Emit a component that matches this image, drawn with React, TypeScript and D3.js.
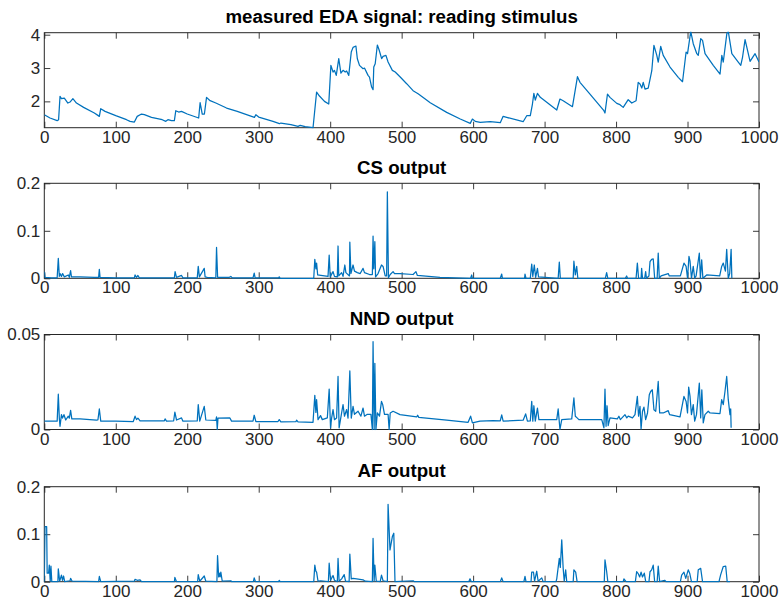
import React, { useRef, useEffect } from "react";
import * as d3 from "d3";

// sample index on x
const xTicks = [0, 100, 200, 300, 400, 500, 600, 700, 800, 900, 1000];

const titles = [
  "measured EDA signal: reading stimulus",
  "CS output",
  "NND output",
  "AF output",
];

const edaYTicks = [2, 3, 4];
const csYTicks = [0, 0.1, 0.2];
const nndYTicks = [0, 0.05];
const afYTicks = [0, 0.1, 0.2];

const edaSignal: [number, number][] = [
  [0, 1.6], [8, 1.5], [18, 1.42], [20, 1.45], [22, 2.15], [24, 2.08], [28, 2.1], [33, 1.95], [36, 1.98],
  [40, 2.08], [45, 1.95], [55, 1.82], [70, 1.65], [75, 1.58], [77, 1.55], [79, 1.78], [85, 1.7], [100, 1.57],
  [115, 1.45], [120, 1.4], [126, 1.38], [130, 1.55], [136, 1.62], [140, 1.6], [150, 1.52], [165, 1.45],
  [170, 1.4], [173, 1.45], [178, 1.42], [182, 1.42], [184, 1.72], [188, 1.68], [192, 1.7], [200, 1.62],
  [212, 1.53], [216, 1.5], [218, 1.96], [221, 1.62], [224, 1.62], [227, 2.12], [232, 2.02], [240, 1.95],
  [255, 1.8], [270, 1.7], [290, 1.55], [294, 1.52], [296, 1.6], [300, 1.53], [320, 1.4], [329, 1.33],
  [331, 1.35], [345, 1.3], [355, 1.25], [358, 1.28], [365, 1.24], [376, 1.21], [381, 2.28], [385, 2.16],
  [392, 2.0], [398, 1.92], [401, 3.08], [404, 2.88], [406, 2.93], [408.5, 2.78], [412, 3.28], [415, 2.85],
  [418, 2.93], [421, 2.88], [423, 2.91], [426, 2.78], [429.5, 3.48], [432, 3.62], [436, 3.66], [438, 3.28],
  [441, 3.08], [446, 2.98], [448, 3.0], [453, 2.78], [455, 2.73], [458, 2.43], [460, 2.35], [461, 3.03],
  [463, 3.13], [466, 3.69], [468.5, 3.54], [472, 3.28], [474, 3.35], [478, 3.38], [481, 3.18], [487, 2.93],
  [491, 2.88], [498, 2.73], [507, 2.53], [516, 2.32], [523, 2.23], [533, 2.07], [540, 1.96], [563, 1.67],
  [582, 1.47], [596, 1.34], [599, 1.47], [603, 1.4], [610, 1.37], [624, 1.39], [638, 1.36], [642, 1.55],
  [647, 1.52], [670, 1.39], [675, 1.57], [680, 1.57], [683, 1.92], [685, 2.24], [687, 2.04], [690, 2.24],
  [694, 2.12], [717, 1.74], [721.5, 2.07], [726, 2.02], [739, 1.84], [746, 2.74], [749.5, 2.57],
  [763.5, 2.22], [783, 1.72], [784.5, 1.65], [788, 2.22], [791.5, 2.12], [801, 1.94], [805.5, 1.9],
  [810, 1.82], [817, 2.05], [822, 1.95], [828, 2.02], [831, 2.57], [833.5, 2.52], [836, 2.4], [838, 2.57],
  [840.5, 2.37], [845, 2.4], [850, 2.92], [853, 3.68], [857, 3.38], [859, 3.18], [862.5, 3.65], [866, 3.38],
  [875.5, 3.03], [887, 2.72], [893, 2.59], [898, 3.48], [900, 3.43], [904.5, 4.1], [908, 3.73], [913, 3.43],
  [915, 3.38], [918.5, 3.88], [921, 3.83], [924.5, 3.43], [936, 3.08], [945.5, 2.82], [948, 3.38],
  [950, 3.18], [955, 4.03], [957, 4.1], [962, 3.43], [971, 3.18], [974.5, 3.08], [977, 3.33], [980.5, 3.85],
  [987.5, 3.2], [994.5, 3.43], [1000, 3.18],
];

const csOutput: [number, number][] = [
  [0, 0.014], [1, 0.002], [10, 0.001], [18, 0.001], [19.6, 0.042], [21, 0.004], [22, 0.01], [24, 0.004],
  [25.6, 0.01], [28, 0.003], [33.6, 0.007], [35, 0.002], [36.8, 0.016], [38, 0.003], [50, 0.003], [70, 0.002],
  [76, 0.002], [77, 0.019], [78, 0.002], [100, 0.001], [126, 0.001], [127, 0.007], [129, 0.002], [131, 0.006],
  [133, 0.001], [182, 0.001], [183, 0.014], [185, 0.002], [192, 0.006], [194, 0.001], [214, 0.001],
  [215.4, 0.025], [217, 0.003], [223.8, 0.021], [225, 0.003], [228, 0.002], [240, 0.001], [241, 0.065],
  [242.5, 0.002], [259, 0.002], [261, 0.004], [263, 0.001], [292, 0.001], [293.7, 0.011], [295, 0.001],
  [328, 0.001], [328.7, 0.003], [330, 0], [377, 0], [378.5, 0.04], [380, 0.02], [381, 0.032], [382.5, 0.007],
  [387, 0.006], [397, 0.004], [398.6, 0.049], [400, 0.003], [404, 0.014], [406, 0.004], [410, 0.003],
  [411, 0.068], [412, 0.005], [416, 0.012], [418, 0.004], [420.5, 0.028], [422, 0.012], [427, 0.005],
  [427.5, 0.076], [429, 0.01], [432, 0.028], [434, 0.015], [438, 0.012], [442, 0.01], [446, 0.021],
  [448, 0.012], [455, 0.008], [459, 0.008], [460, 0.089], [461, 0.02], [462.5, 0.077], [463.5, 0.003],
  [467, 0.01], [471.8, 0.028], [474, 0.025], [477, 0.005], [479, 0.005], [480, 0.182], [481.5, 0.001],
  [484, 0.008], [488, 0.014], [490, 0.01], [497.7, 0.01], [516, 0.008], [520, 0.014], [522, 0.006],
  [553.6, 0.002], [596.5, 0], [598, 0.007], [599, 0], [638, 0], [640, 0.009], [641, 0], [672, 0],
  [672.6, 0.009], [674, 0], [680, 0], [682, 0.03], [683.5, 0.004], [685.6, 0.028], [687.5, 0.002],
  [690, 0.021], [691.5, 0.003], [719, 0], [720.6, 0.034], [722, 0], [740, 0], [741, 0.036], [743, 0.007],
  [744.9, 0.025], [746.5, 0], [785, 0], [786.8, 0.012], [788.5, 0], [813, 0], [814.8, 0.005], [816, 0],
  [828, 0], [829.8, 0.032], [831.5, 0], [835, 0], [835.8, 0.021], [837, 0], [840, 0], [841.4, 0.014],
  [842.5, 0], [846, 0.005], [847.5, 0.035], [849.8, 0.04], [852, 0.041], [854, 0], [857.5, 0], [859, 0.053],
  [860.5, 0], [863, 0.005], [873, 0.01], [874.5, 0.005], [890, 0.005], [895, 0.032], [898, 0.025], [900, 0],
  [902, 0.046], [903.5, 0.036], [905.5, 0], [908, 0.025], [910, 0], [912, 0.005], [916.5, 0.053], [918, 0],
  [919.8, 0.039], [921.5, 0], [926.8, 0.007], [945, 0.005], [947.8, 0.025], [950, 0.032], [953, 0.015],
  [954.8, 0.061], [957, 0], [959, 0.01], [961, 0.061], [962, 0],
];

const nndOutput: [number, number][] = [
  [0, 0.0044], [18, 0.0044], [19.6, 0.0186], [21, 0.006], [22, 0.0017], [24, 0.0078], [25.5, 0.006],
  [27.5, 0.0078], [30, 0.005], [33.6, 0.007], [35, 0.006], [36.8, 0.0101], [38.5, 0.0056], [50, 0.0056],
  [73, 0.0049], [75, 0.005], [77, 0.0108], [79, 0.0044], [100, 0.0044], [124.5, 0.0042], [127, 0.007],
  [129, 0.0052], [131, 0.006], [134, 0.0045], [150, 0.0045], [168, 0.0046], [169, 0.0056], [171, 0.0044],
  [181, 0.0046], [182.7, 0.0092], [185, 0.005], [192, 0.0061], [194, 0.0044], [214, 0.0045], [215.4, 0.0131],
  [217.5, 0.0044], [223.8, 0.0122], [226, 0.005], [240, 0.0048], [241, 0.0066], [242, 0], [243, 0.006],
  [259.7, 0.0061], [262, 0.0044], [292, 0.0044], [293.7, 0.0075], [296, 0.0042], [327, 0.0042],
  [328.7, 0.0052], [331, 0.004], [352, 0.0041], [353, 0.0049], [355, 0.004], [376, 0.0038], [378.5, 0.018],
  [380, 0.009], [381, 0.0157], [383, 0.0052], [386.5, 0.0073], [389, 0.0052], [396, 0.0061], [398.6, 0.0213],
  [400.5, 0.0009], [402, 0.006], [404, 0.0105], [406, 0.0052], [409, 0.006], [411, 0.0279], [412.5, 0.0009],
  [416, 0.0087], [418, 0.0131], [420, 0.007], [423, 0.0105], [425, 0.006], [427.5, 0.0308], [429.5, 0.006],
  [432, 0.0122], [434, 0.008], [439, 0.0096], [443, 0.007], [446, 0.0113], [448, 0.007], [452, 0.008],
  [457, 0.008], [459, 0], [460, 0.0462], [461.5, 0], [462.5, 0.0348], [464, 0], [466, 0.0087], [469, 0.007],
  [471.8, 0.0148], [473.5, 0.0131], [476, 0.008], [481, 0.008], [482.5, 0], [484, 0.0087], [488, 0.0096],
  [497.7, 0.0078], [521, 0.0066], [522.4, 0.0075], [524, 0.0064], [563, 0.0049], [593, 0.0038],
  [596.5, 0.007], [599, 0.0035], [609.6, 0.0044], [628, 0.0047], [638, 0.0046], [640, 0.0077],
  [642, 0.0044], [670, 0.0049], [673.5, 0.0082], [676, 0.0044], [680, 0.0045], [682, 0.0148],
  [683.5, 0.0044], [685, 0.0125], [687, 0.0044], [690, 0.0113], [692, 0.0052], [717, 0.0052], [719, 0.0108],
  [721.5, 0], [724, 0.0052], [738, 0.0056], [741, 0.0166], [743, 0.007], [745.5, 0.0061], [748, 0.0052],
  [780, 0.0052], [783, 0.0009], [784.5, 0.0213], [786, 0.0017], [787.4, 0.0125], [789, 0.002],
  [791.5, 0.0061], [801.8, 0.0056], [804, 0.007], [806, 0.0052], [812.5, 0.0078], [815, 0.0061],
  [817, 0.007], [823, 0.0061], [826.5, 0.0078], [829.8, 0.0174], [831.5, 0.007], [833.5, 0.0122],
  [835, 0.0003], [837, 0.0096], [839, 0.0118], [841.4, 0.0052], [844, 0.0087], [846.5, 0.0183],
  [848.4, 0.02], [850.7, 0.0209], [853, 0.0104], [855.5, 0.0096], [859, 0.0253], [861, 0.0087],
  [866, 0.0087], [873, 0.0099], [875, 0.0078], [889.5, 0.0066], [895, 0.0174], [898, 0.0148], [900, 0.0087],
  [901.6, 0.0223], [903.5, 0.0174], [905.5, 0.0078], [908, 0.0131], [910, 0.0044], [912.5, 0.0078],
  [916.5, 0.0244], [918.4, 0.0061], [920, 0.0209], [922, 0.0035], [924.4, 0.0078], [929, 0.0096],
  [931.5, 0.0087], [945.4, 0.0084], [947.8, 0.0157], [950, 0.0131], [952.4, 0.02], [954.8, 0.0279],
  [957, 0.0157], [959.4, 0.0078], [960.4, 0.0108], [961, 0.0009],
];

const afOutput: [number, number][] = [
  [0, 0], [1, 0.116], [3.3, 0.116], [4, 0.018], [6, 0.018], [7, 0.035], [8.3, 0.001], [9.3, 0.033],
  [10.5, 0], [19, 0], [19.6, 0.027], [21.5, 0.001], [24, 0.014], [25.5, 0.003], [27, 0.012], [28.5, 0],
  [36, 0.002], [36.8, 0.007], [39, 0.001], [76, 0], [77, 0.011], [79, 0], [126, 0.001], [127, 0.005],
  [130, 0.003], [134, 0.004], [136, 0], [182, 0], [182.7, 0.009], [185, 0], [214.5, 0], [215.4, 0.015],
  [217.5, 0.001], [223.8, 0.012], [226, 0.001], [241.5, 0], [242.4, 0.055], [244, 0.01], [244.8, 0.018],
  [246, 0.01], [247, 0.02], [249, 0.001], [261, 0.002], [262, 0], [292.5, 0], [293.7, 0.008], [295.5, 0],
  [328, 0], [328.7, 0.003], [330, 0], [377, 0], [378.5, 0.035], [380, 0.022], [381, 0.02], [383, 0.001],
  [387, 0.002], [397.5, 0], [398.6, 0.039], [400.5, 0.003], [404, 0.013], [406, 0.003], [410, 0],
  [411, 0.049], [412.5, 0.001], [416, 0.006], [419.6, 0.015], [421.5, 0.001], [426.5, 0], [427.5, 0.058],
  [429.5, 0.006], [432, 0.007], [437, 0.006], [446, 0.004], [449, 0.001], [459, 0], [460, 0.091],
  [461.5, 0.001], [462.5, 0.035], [464.5, 0.001], [470, 0], [471.8, 0.014], [474, 0.002], [480, 0],
  [481, 0.163], [483.7, 0.067], [487, 0.095], [489, 0.102], [490.7, 0], [516, 0.002], [518, 0], [594, 0],
  [595.6, 0.006], [597.5, 0], [638, 0], [640, 0.008], [642, 0], [671, 0], [672.6, 0.011], [674, 0], [681, 0],
  [682, 0.02], [684.5, 0.02], [686, 0.001], [689, 0.022], [691, 0.001], [696, 0.008], [698, 0], [716, 0],
  [717, 0.006], [720.6, 0.049], [722, 0.03], [724, 0.088], [726, 0.028], [727.5, 0.001], [729.5, 0.025],
  [731, 0], [740, 0], [741, 0.025], [743.5, 0.02], [745.5, 0], [783.5, 0], [784.5, 0.046], [786.8, 0.022],
  [788.5, 0], [810, 0], [811, 0.006], [814, 0], [827, 0], [828.8, 0.021], [831, 0.017], [833, 0.01],
  [835, 0.02], [837, 0.01], [839.5, 0.018], [841.5, 0], [846, 0], [847.5, 0.021], [849.8, 0.025],
  [852, 0.035], [854, 0], [857.5, 0], [859, 0.033], [861, 0], [868, 0.003], [870, 0], [890, 0],
  [891.8, 0.014], [895, 0.02], [897.5, 0.007], [901, 0.025], [903, 0.018], [905.5, 0], [913.5, 0],
  [915, 0.025], [918.4, 0.028], [921, 0], [944, 0], [946.4, 0.015], [950, 0.032], [953.4, 0.033],
  [955.5, 0], [959.4, 0],
];

const FONT = "'Liberation Sans', Arial, Helvetica, sans-serif";
const AXIS_COLOR = "#262626";
const LINE_COLOR = "#0072BD";

const App = () => {
  const ref = useRef<SVGSVGElement>(null);
  const width = 783;
  const height = 609;

  useEffect(() => {
    const svg = d3.select(ref.current);
    svg.selectAll("*").remove();

    const panels = [
      { title: titles[0], data: edaSignal, yDomain: [1.21, 4.06], yTicks: edaYTicks },
      { title: titles[1], data: csOutput, yDomain: [0, 0.2], yTicks: csYTicks },
      { title: titles[2], data: nndOutput, yDomain: [0, 0.05], yTicks: nndYTicks },
      { title: titles[3], data: afOutput, yDomain: [0, 0.2], yTicks: afYTicks },
    ];

    const left = 44.3;
    const right = 759;
    const tops = [32.7, 183.3, 334.5, 486.7];
    const ph = 95;

    const x = d3.scaleLinear().domain([0, 1000]).range([left, right]);

    const styleAxis = (g) => {
      g.attr("font-family", FONT).attr("font-size", 17).attr("color", AXIS_COLOR);
      g.select(".domain").remove();
      g.selectAll("line").attr("stroke-width", 0.9);
    };

    panels.forEach((p, i) => {
      const top = tops[i];
      const bottom = top + ph;
      const y = d3.scaleLinear().domain(p.yDomain).range([bottom, top]);

      const g = svg.append("g");

      g.append("clipPath")
        .attr("id", `clip-${i}`)
        .append("rect")
        .attr("x", left)
        .attr("y", top - 1)
        .attr("width", right - left)
        .attr("height", ph + 2);

      // axes: ticks inside on all four sides, labels bottom + left only
      g.append("g")
        .attr("transform", `translate(0,${bottom})`)
        .call(
          d3.axisBottom(x).tickValues(xTicks).tickSize(-6).tickSizeOuter(0).tickPadding(3)
            .tickFormat((d) => String(d))
        )
        .call(styleAxis);
      g.append("g")
        .attr("transform", `translate(0,${top})`)
        .call(d3.axisTop(x).tickValues(xTicks).tickSize(-6).tickSizeOuter(0).tickFormat(() => ""))
        .call(styleAxis);
      g.append("g")
        .attr("transform", `translate(${left},0)`)
        .call(
          d3.axisLeft(y).tickValues(p.yTicks).tickSize(-6).tickSizeOuter(0).tickPadding(4)
            .tickFormat((d) => String(d))
        )
        .call(styleAxis);
      g.append("g")
        .attr("transform", `translate(${right},0)`)
        .call(d3.axisRight(y).tickValues(p.yTicks).tickSize(-6).tickSizeOuter(0).tickFormat(() => ""))
        .call(styleAxis);

      g.append("rect")
        .attr("x", left)
        .attr("y", top)
        .attr("width", right - left)
        .attr("height", ph)
        .attr("fill", "none")
        .attr("stroke", AXIS_COLOR)
        .attr("stroke-width", 1);

      const line = d3
        .line<[number, number]>()
        .x((d) => x(d[0]))
        .y((d) => y(d[1]));

      g.append("path")
        .datum(p.data)
        .attr("d", line)
        .attr("fill", "none")
        .attr("stroke", LINE_COLOR)
        .attr("stroke-width", 1.25)
        .attr("stroke-linejoin", "round")
        .attr("clip-path", `url(#clip-${i})`);

      g.append("text")
        .attr("x", (left + right) / 2)
        .attr("y", top - 9.5)
        .attr("text-anchor", "middle")
        .attr("font-family", FONT)
        .attr("font-size", 18.7)
        .attr("font-weight", "bold")
        .attr("fill", "#000")
        .text(p.title);
    });
  }, []);

  return (
    <svg
      ref={ref}
      width={width}
      height={height}
      style={{ position: "absolute", left: 0, top: 0, background: "#fff" }}
    />
  );
};

export default App;
